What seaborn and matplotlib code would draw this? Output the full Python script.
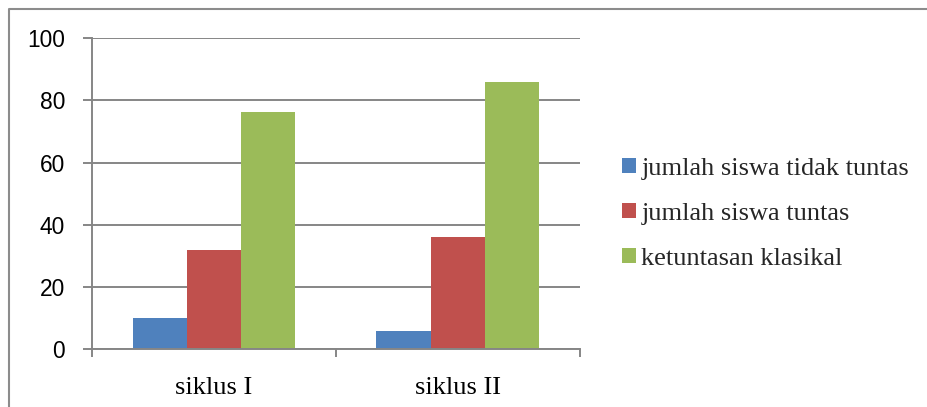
import matplotlib
matplotlib.use("Agg")
import matplotlib.pyplot as plt
from matplotlib.lines import Line2D
import seaborn as sns
import pandas as pd

# Data
siklus = ["siklus I", "siklus II"]
series = ["jumlah siswa tidak tuntas", "jumlah siswa tuntas", "ketuntasan klasikal"]
tidak_tuntas = [10, 6]
tuntas = [32, 36]
ketuntasan = [76.19, 85.71]
y_ticks = [0, 20, 40, 60, 80, 100]

colors = ["#4F81BD", "#C0504D", "#9BBB59"]
grey = "#868686"

rows = []
for name, vals in zip(series, [tidak_tuntas, tuntas, ketuntasan]):
    for s, v in zip(siklus, vals):
        rows.append({"siklus": s, "seri": name, "nilai": v})
df = pd.DataFrame(rows)

sns.set_theme(style="white")
fig = plt.figure(figsize=(9.27, 4.07), dpi=100)
ax = fig.add_axes([0.0992, 0.1413, 0.5260, 0.7654])

sns.barplot(data=df, x="siklus", y="nilai", hue="seri", order=siklus,
            hue_order=series, palette=colors, width=2 / 3, gap=0,
            saturation=1, linewidth=0, ax=ax)

ax.set_xlim(-0.5, 1.5)
ax.set_ylim(0, 100)
ax.set_yticks(y_ticks)
ax.set_xlabel("")
ax.set_ylabel("")

# grid and spines
ax.set_axisbelow(True)
ax.yaxis.grid(True, color=grey, linewidth=1.4)
ax.xaxis.grid(False)
for side in ["top", "right"]:
    ax.spines[side].set_visible(False)
for side in ["left", "bottom"]:
    ax.spines[side].set_color(grey)
    ax.spines[side].set_linewidth(1.4)

# ticks: category separators on x, outward marks on y
ax.set_xticks([-0.5, 0.5, 1.5], minor=True)
ax.tick_params(axis="x", which="major", length=0, pad=20)
ax.tick_params(axis="x", which="minor", length=5.5, width=1.4, color=grey,
               direction="out", bottom=True)
ax.tick_params(axis="y", which="major", length=6.5, width=1.4, color=grey,
               direction="out", left=True, pad=13)

for lab in ax.get_yticklabels():
    lab.set_fontfamily("Liberation Sans")
    lab.set_fontsize(16.4)
    lab.set_color("black")
for lab in ax.get_xticklabels():
    lab.set_fontfamily("Liberation Serif")
    lab.set_fontsize(19)
    lab.set_color("black")

handles, labels = ax.get_legend_handles_labels()
ax.legend(handles, labels, loc="center left", bbox_to_anchor=(1.06, 0.436),
          frameon=False, handlelength=0.53, handleheight=0.53,
          handletextpad=0.2, labelspacing=0.87, borderpad=0,
          prop={"family": "Liberation Serif", "size": 19})

# outer chart border
fig.add_artist(Line2D([0.0092, 0.0092, 1.0], [0.0, 0.979, 0.979],
                      transform=fig.transFigure, color="#8c8c8c",
                      linewidth=1.5))

fig.savefig("out.png", dpi=100, facecolor="white")
